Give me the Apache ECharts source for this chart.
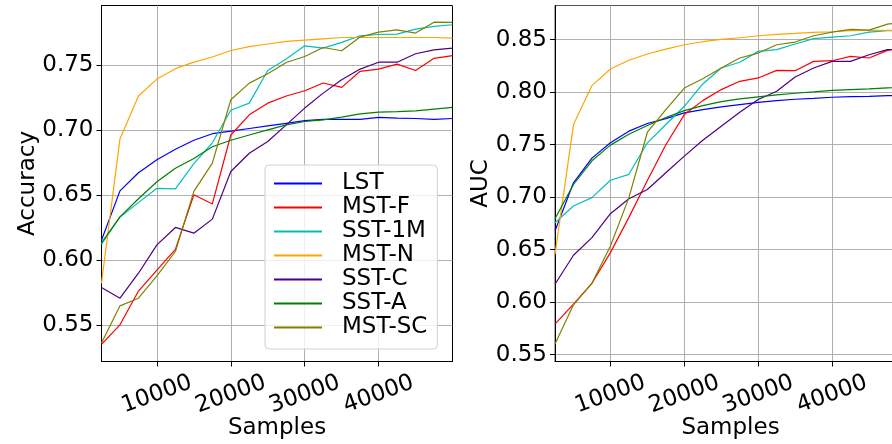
<!DOCTYPE html>
<html>
<head>
<meta charset="utf-8">
<script src="https://cdn.jsdelivr.net/npm/echarts@6/dist/echarts.min.js"></script>
<style>
  html, body { margin: 0; padding: 0; background: #fff; }
  #main { width: 892px; height: 444px; }
</style>
</head>
<body>
<div id="main"></div>
<script>
// x values (number of samples)
const samples = [2500, 5000, 7500, 10000, 12500, 15000, 17500, 20000, 22500, 25000,
  27500, 30000, 32500, 35000, 37500, 40000, 42500, 45000, 47500, 50000];

const methods = ['LST', 'MST-F', 'SST-1M', 'MST-N', 'SST-C', 'SST-A', 'MST-SC'];
const colors = ['#0000ff', '#ff0000', '#00bfbf', '#ffa500', '#4b0082', '#008000', '#808000'];

// accuracy
const accLST = [0.615, 0.653, 0.667, 0.677, 0.685, 0.692, 0.697, 0.699, 0.701, 0.703, 0.705, 0.707, 0.708, 0.708, 0.708, 0.7095, 0.709, 0.7087, 0.708, 0.7087];
const accMSTF = [0.535, 0.550, 0.576, 0.592, 0.608, 0.650, 0.643, 0.696, 0.7115, 0.7205, 0.726, 0.730, 0.736, 0.7326, 0.745, 0.7467, 0.7505, 0.7456, 0.755, 0.757];
const accSST1M = [0.612, 0.633, 0.644, 0.655, 0.6546, 0.674, 0.690, 0.715, 0.7205, 0.7456, 0.7544, 0.7646, 0.7628, 0.7672, 0.7723, 0.7733, 0.7736, 0.7774, 0.7795, 0.7808];
const accMSTN = [0.582, 0.693, 0.726, 0.739, 0.747, 0.752, 0.756, 0.761, 0.764, 0.766, 0.768, 0.769, 0.770, 0.771, 0.771, 0.771, 0.771, 0.771, 0.771, 0.7705];
const accSSTC = [0.5787, 0.5705, 0.5897, 0.6115, 0.6249, 0.6205, 0.6313, 0.6679, 0.682, 0.691, 0.7038, 0.7167, 0.7282, 0.7385, 0.7467, 0.752, 0.752, 0.7585, 0.7615, 0.7628];
const accSSTA = [0.613, 0.633, 0.647, 0.660, 0.6705, 0.678, 0.687, 0.692, 0.696, 0.700, 0.7038, 0.7064, 0.7077, 0.7097, 0.7123, 0.7136, 0.714, 0.7146, 0.7159, 0.7172];
const accMSTSC = [0.536, 0.5646, 0.5705, 0.5877, 0.6064, 0.6526, 0.6744, 0.7231, 0.7359, 0.7431, 0.7518, 0.7564, 0.7633, 0.7608, 0.7713, 0.7751, 0.7769, 0.7744, 0.7828, 0.7826];

// AUC
const aucLST = [0.6678, 0.7137, 0.7372, 0.7518, 0.7629, 0.7702, 0.7749, 0.7803, 0.7835, 0.786, 0.7882, 0.7904, 0.792, 0.7933, 0.7942, 0.7952, 0.7958, 0.7961, 0.7968, 0.797];
const aucMSTF = [0.5791, 0.5981, 0.618, 0.6472, 0.6808, 0.716, 0.750, 0.7787, 0.792, 0.8025, 0.8104, 0.8136, 0.8208, 0.8205, 0.8294, 0.830, 0.8342, 0.8326, 0.8399, 0.8421];
const aucSST1M = [0.6757, 0.6916, 0.6996, 0.7161, 0.7218, 0.7518, 0.7692, 0.7866, 0.8079, 0.8231, 0.8285, 0.8389, 0.8405, 0.8459, 0.851, 0.8525, 0.8538, 0.8573, 0.8586, 0.8589];
const aucMSTN = [0.6456, 0.7692, 0.8063, 0.8221, 0.8304, 0.8364, 0.8411, 0.8452, 0.8481, 0.8503, 0.8519, 0.8538, 0.8551, 0.856, 0.857, 0.8576, 0.8586, 0.8589, 0.8589, 0.8589];
const aucSSTC = [0.6171, 0.6447, 0.6615, 0.6843, 0.6986, 0.7074, 0.7233, 0.7391, 0.7543, 0.7676, 0.7809, 0.793, 0.8009, 0.8145, 0.8231, 0.8294, 0.8294, 0.8357, 0.8405, 0.8421];
const aucSSTA = [0.6795, 0.7121, 0.7347, 0.7496, 0.760, 0.7683, 0.7759, 0.7825, 0.7873, 0.7911, 0.7936, 0.7955, 0.7974, 0.799, 0.8003, 0.8018, 0.8025, 0.8031, 0.8041, 0.8047];
const aucMSTSC = [0.5601, 0.5975, 0.6181, 0.6536, 0.6996, 0.7619, 0.7835, 0.804, 0.8129, 0.8231, 0.8326, 0.8373, 0.8452, 0.8478, 0.8538, 0.8573, 0.8598, 0.8592, 0.8649, 0.8665];

const accData = [accLST, accMSTF, accSST1M, accMSTN, accSSTC, accSSTA, accMSTSC];
const aucData = [aucLST, aucMSTF, aucSST1M, aucMSTN, aucSSTC, aucSSTA, aucMSTSC];

// tick labels
const xTicks = [10000, 20000, 30000, 40000];
const accTicks = [0.55, 0.60, 0.65, 0.70, 0.75];
const aucTicks = [0.55, 0.60, 0.65, 0.70, 0.75, 0.80, 0.85];

const font = 'DejaVu Sans';
const fs = 23;

const chart = echarts.init(document.getElementById('main'));

function xAxisFor(gridIndex) {
  return {
    type: 'value',
    gridIndex: gridIndex,
    min: 2500,
    max: 50000,
    name: 'Samples',
    nameLocation: 'middle',
    nameGap: 55,
    nameMoveOverlap: false,
    nameTextStyle: { fontFamily: font, fontSize: fs, color: '#000' },
    axisLine: { show: true, onZero: false, lineStyle: { color: '#000', width: 1 } },
    axisTick: { show: true, inside: false, length: 5, customValues: xTicks, lineStyle: { color: '#000' } },
    axisLabel: {
      customValues: xTicks,
      rotate: 20,
      align: 'center',
      verticalAlign: 'middle',
      margin: 33,
      fontFamily: font,
      fontSize: fs,
      color: '#000',
      formatter: v => String(v)
    },
    splitLine: { show: true, lineStyle: { color: '#b0b0b0', width: 1 } }
  };
}

function yAxisFor(gridIndex, name, min, max, ticks) {
  return {
    type: 'value',
    gridIndex: gridIndex,
    min: min,
    max: max,
    name: name,
    nameLocation: 'middle',
    nameGap: 62,
    nameMoveOverlap: false,
    nameTextStyle: { fontFamily: font, fontSize: fs, color: '#000' },
    axisLine: { show: true, lineStyle: { color: '#000', width: 1 } },
    axisTick: { show: true, inside: false, length: 5, customValues: ticks, lineStyle: { color: '#000' } },
    axisLabel: {
      customValues: ticks,
      margin: 8,
      fontFamily: font,
      fontSize: fs,
      color: '#000',
      formatter: v => v.toFixed(2)
    },
    splitLine: { show: true, lineStyle: { color: '#b0b0b0', width: 1 } }
  };
}

const series = [];
methods.forEach((m, k) => {
  series.push({
    name: m, type: 'line', xAxisIndex: 0, yAxisIndex: 0,
    data: samples.map((s, i) => [s, accData[k][i]]),
    symbol: 'none', color: colors[k],
    lineStyle: { width: 1.2, color: colors[k] }, animation: false
  });
});
methods.forEach((m, k) => {
  series.push({
    name: m, type: 'line', xAxisIndex: 1, yAxisIndex: 1,
    data: samples.map((s, i) => [s, aucData[k][i]]),
    symbol: 'none', color: colors[k],
    lineStyle: { width: 1.2, color: colors[k] }, animation: false
  });
});

const option = {
  backgroundColor: '#fff',
  animation: false,
  textStyle: { fontFamily: font },
  grid: [
    { left: 101.5, top: 5.5, width: 351, height: 356, containLabel: false, outerBoundsMode: 'none',
      show: true, borderColor: '#000', borderWidth: 1, backgroundColor: 'transparent' },
    { left: 555, top: 5.5, width: 351, height: 356, containLabel: false, outerBoundsMode: 'none',
      show: true, borderColor: '#555', borderWidth: 1, backgroundColor: 'transparent' }
  ],
  xAxis: [xAxisFor(0), xAxisFor(1)],
  yAxis: [
    yAxisFor(0, 'Accuracy', 0.5218, 0.7956, accTicks),
    yAxisFor(1, 'AUC', 0.5435, 0.8826, aucTicks)
  ],
  legend: {
    data: methods,
    orient: 'vertical',
    left: 265,
    top: 165,
    icon: 'rect',
    itemWidth: 48,
    itemHeight: 2,
    itemGap: 1,
    padding: [7, 10, 10, 9],
    backgroundColor: 'rgba(255,255,255,0.8)',
    borderColor: '#d0d0d0',
    borderWidth: 1,
    borderRadius: 4,
    textStyle: { fontFamily: font, fontSize: fs, color: '#000', lineHeight: 23, padding: [0, 0, 0, 15] }
  },
  series: series
};

chart.setOption(option);
</script>
</body>
</html>
